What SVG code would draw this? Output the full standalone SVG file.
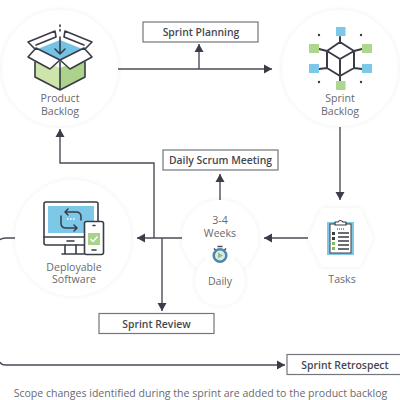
<svg xmlns="http://www.w3.org/2000/svg" width="400" height="400" viewBox="0 0 400 400">
<style>
.t{font-family:"Open Sans","Liberation Sans",sans-serif;font-size:10.6px;fill:#686a70;text-anchor:middle}
.b{font-family:"Open Sans","Liberation Sans",sans-serif;font-size:10.4px;font-weight:600;fill:#45474f;text-anchor:middle}
.box{fill:#fff;stroke:#74767c;stroke-width:1.2}
.c{fill:none;stroke:#4a4c57;stroke-width:1.4}
.i{stroke:#3a3c47;stroke-width:1.6;stroke-linejoin:round;stroke-linecap:round}
.disc{fill:#fff;filter:url(#s)}
</style>
<defs>
<filter id="s" x="-20%" y="-20%" width="140%" height="140%"><feDropShadow dx="0" dy="0" stdDeviation="2.500" flood-color="#000" flood-opacity="0.07"/></filter>
<marker id="a" markerUnits="userSpaceOnUse" markerWidth="9" markerHeight="10" refX="8" refY="5" orient="auto"><path d="M0 0.500L8 5L0 9.500Z" fill="#3a3c47"/></marker>
</defs>
<rect width="400" height="400" fill="#fff"/>
<g id="connectors">
<path class="c" d="M118 69H272" marker-end="url(#a)"/>
<path class="c" d="M199 69V44" marker-end="url(#a)"/>
<path class="c" d="M340 127V200" marker-end="url(#a)"/>
<path class="c" d="M308 238H264" marker-end="url(#a)"/>
<path class="c" d="M220 200V174" marker-end="url(#a)"/>
<path class="c" d="M182 238H137" marker-end="url(#a)"/>
<path class="c" d="M154 238V163H60V129" marker-end="url(#a)"/>
<path class="c" d="M162 238V311" marker-end="url(#a)"/>
<path class="c" d="M15 238H6Q1 238 0 240"/>
<path class="c" d="M0 362Q1 365 6 365H285" marker-end="url(#a)"/>
</g>
<g id="product-backlog">
<circle class="disc" cx="60" cy="68" r="58"/>
<path d="M60 40L85 50L60 60L35 50Z" fill="#72c3e4"/>
<path d="M35 58L60 68V90L35 78Z" fill="#cde4ab"/>
<path d="M85 58L60 68V90L85 78Z" fill="#acd28b"/>
<path class="i" fill="none" d="M35 62V77L60 90L85 77V62M60 62V90"/>
<path class="i" fill="#fff" d="M35 49L28 42L55 31L56 37L36 45M85 49L92 42L65 31L64 37L84 45"/>
<path class="i" fill="#fff" d="M36 48L28 57L50 69L60 60ZM84 48L92 57L70 69L60 60Z"/>
<path class="i" fill="none" d="M60 37V54M55 49L60 54L65 49"/>
<path class="i" fill="none" stroke-dasharray="1.500 3" d="M60 25V34"/>
<text class="t" x="60" y="102">Product</text>
<text class="t" x="60" y="115">Backlog</text>
</g>
<g id="sprint-backlog">
<circle class="disc" cx="340" cy="68" r="58"/>
<path class="i" fill="none" style="stroke-width:2" d="M340 42L354 51V68L340 76L327 68V51ZM327 51L340 59L354 51M340 59V76M340 37V42M340 76V81M327 51L319 49M354 51L362 49M327 68L319 69M354 68L362 69"/>
<g fill="#7cc8e6"><rect x="336" y="27" width="9.500" height="9"/><rect x="309" y="64" width="10" height="9"/><rect x="362" y="64" width="10" height="9"/></g>
<g fill="#add68f"><rect x="309" y="44" width="10" height="9"/><rect x="362" y="44" width="10" height="9"/><rect x="336" y="81" width="9.500" height="9"/></g>
<g fill="#3a3c47"><circle cx="319" cy="35" r="1.200"/><circle cx="361" cy="35" r="1.200"/><circle cx="319" cy="82" r="1.200"/><circle cx="361" cy="82" r="1.200"/></g>
<text class="t" x="340" y="102">Sprint</text>
<text class="t" x="340" y="115">Backlog</text>
</g>
<g id="deployable-software">
<circle class="disc" cx="73" cy="238" r="58"/>
<rect x="44" y="202" width="54" height="43" rx="2" fill="#fff" class="i"/>
<rect x="48" y="206" width="46" height="27" fill="#7cc8e6"/>
<path class="i" fill="none" d="M44 237H84M67 241H74M65 245V254M76 245V254M62 254H84"/>
<path class="i" fill="none" style="stroke-width:1.500" d="M66 212H76Q81 212 81 217V220M76 228H66Q61 228 61 223V216M68 209L65 212L68 215M74 225L77 228L74 231"/>
<path d="M67 219H75" stroke="#fff" stroke-width="1.500" stroke-dasharray="1.500 1.500"/>
<rect x="84.500" y="221.500" width="19" height="33" rx="2" fill="#fff" class="i"/>
<rect x="88" y="233" width="12" height="12" fill="#a9d38a"/>
<path d="M90.500 239L93 241.500L97.500 236.500" fill="none" stroke="#fff" stroke-width="1.500"/>
<path class="i" d="M93 225.500H95M92 250H96"/>
<text class="t" x="74" y="270.500">Deployable</text>
<text class="t" x="74" y="283">Software</text>
</g>
<g id="sprint-cycle">
<circle class="disc" cx="220" cy="238" r="38"/>
<circle class="disc" cx="220" cy="280.500" r="25"/>
<circle cx="220" cy="255" r="14" fill="#fff"/>
<circle cx="220" cy="255.500" r="6.300" fill="#d8e8ef" stroke="#4f86a8" stroke-width="2.500"/>
<path d="M218 252.500L223 255.500L218 258.500Z" fill="#8cc56e"/>
<path d="M217.500 246.500H222.500M214 248.500L215.500 250M226 248.500L224.500 250" stroke="#4a4c57" stroke-width="1.500"/>
<text class="t" x="220" y="223.500">3-4</text>
<text class="t" x="220" y="236.500">Weeks</text>
<text class="t" x="220" y="284.500">Daily</text>
</g>
<g id="tasks">
<path d="M322 208H360L373 238L360 267H322L308 238Z" fill="#fff" filter="url(#s)"/>
<rect x="327" y="222" width="27" height="33" fill="#7cc8e6"/>
<rect x="330" y="224" width="21" height="29" fill="#fff" stroke="#3a3c47"/>
<path class="i" fill="#fff" style="stroke-width:1.200" d="M335 225V222H338Q340 219 343 222H346V225Z"/>
<path d="M338 233H349M338 237H349M338 241H349M338 245H349M338 249H349" stroke="#3a3c47" stroke-width="1.500"/>
<path d="M337 229H344" stroke="#3a3c47" stroke-dasharray="1 1"/>
<rect x="332" y="232" width="3" height="3" fill="#3a3c47"/><rect x="332" y="237" width="3" height="3" fill="#3a3c47"/>
<rect x="332" y="242" width="3" height="3" fill="#7dbf5a"/><rect x="332" y="247" width="3" height="3" fill="#7dbf5a"/>
<text class="t" x="342" y="283">Tasks</text>
</g>
<g id="sprint-planning"><rect class="box" x="143" y="22" width="115" height="20"/><text class="b" x="201" y="36">Sprint Planning</text></g>
<g id="daily-scrum"><rect class="box" x="163" y="150" width="115" height="20"/><text class="b" x="220.500" y="163.500">Daily Scrum Meeting</text></g>
<g id="sprint-review"><rect class="box" x="99" y="313.500" width="115" height="20"/><text class="b" x="156.500" y="327.500">Sprint Review</text></g>
<g id="sprint-retrospect"><rect class="box" x="287" y="354.500" width="114" height="20"/><text class="b" x="345" y="368.500">Sprint Retrospect</text></g>
<text class="t" x="200.500" y="397" id="note" style="font-size:10.55px">Scope changes identified during the sprint are added to the product backlog</text>
</svg>
